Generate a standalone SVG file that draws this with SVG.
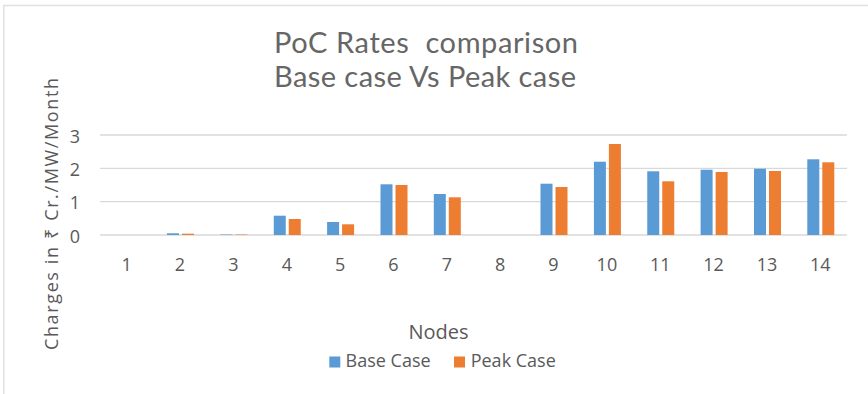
<svg xmlns="http://www.w3.org/2000/svg" width="868" height="394" viewBox="0 0 868 394">
<style>
.lbl{font-family:"Open Sans","Noto Sans",sans-serif;font-size:18px;fill:#595959}
.ttl{font-family:Lato,"Liberation Sans",sans-serif;font-size:29px;fill:#666666;white-space:pre}
.grid{stroke:#D9D9D9;stroke-width:1.3}
.b{fill:#5B9BD5}
.o{fill:#ED7D31}
</style>
<rect x="0" y="0" width="868" height="394" fill="#fff"/>
<path d="M3.7 394V5.5H868" fill="none" stroke="#E0E0E0" stroke-width="1.5"/>
<g id="title" class="ttl" text-anchor="middle">
<text x="426" y="52.7" xml:space="preserve" textLength="304" lengthAdjust="spacing">PoC Rates  comparison</text>
<text x="425" y="86.7" textLength="302" lengthAdjust="spacing">Base case Vs Peak case</text>
</g>
<g id="gridlines" class="grid">
<line x1="100" y1="135" x2="847" y2="135"/>
<line x1="100" y1="168.3" x2="847" y2="168.3"/>
<line x1="100" y1="201.7" x2="847" y2="201.7"/>
<line x1="100" y1="235" x2="847" y2="235"/>
</g>
<g id="y-ticks" class="lbl" text-anchor="middle">
<text x="75" y="142.5">3</text>
<text x="75" y="175.8">2</text>
<text x="75" y="209.2">1</text>
<text x="75" y="242.5">0</text>
</g>
<text id="y-title" class="lbl" transform="translate(58 214) rotate(-90)" text-anchor="middle" textLength="272" lengthAdjust="spacing">Charges in ₹ Cr./MW/Month</text>
<g id="bars">
<g id="n2"><rect class="b" x="167" y="233.3" width="12" height="1.7"/><rect class="o" x="182" y="233.7" width="12" height="1.3"/></g>
<g id="n3" opacity="0.45"><rect class="b" x="220.4" y="234" width="12" height="1"/><rect class="o" x="235.4" y="234" width="12" height="1"/></g>
<g id="n4"><rect class="b" x="273.75" y="215.7" width="12" height="19.3"/><rect class="o" x="288.75" y="219" width="12" height="16"/></g>
<g id="n5"><rect class="b" x="327.1" y="222" width="12" height="13"/><rect class="o" x="342.1" y="224.3" width="12" height="10.7"/></g>
<g id="n6"><rect class="b" x="380.5" y="184.3" width="12" height="50.7"/><rect class="o" x="395.5" y="185" width="12" height="50"/></g>
<g id="n7"><rect class="b" x="433.8" y="194" width="12" height="41"/><rect class="o" x="448.8" y="197.3" width="12" height="37.7"/></g>
<g id="n9"><rect class="b" x="540.5" y="183.7" width="12" height="51.3"/><rect class="o" x="555.5" y="187" width="12" height="48"/></g>
<g id="n10"><rect class="b" x="593.9" y="161.7" width="12" height="73.3"/><rect class="o" x="608.9" y="144" width="12" height="91"/></g>
<g id="n11"><rect class="b" x="647.25" y="171.3" width="12" height="63.7"/><rect class="o" x="662.25" y="181.3" width="12" height="53.7"/></g>
<g id="n12"><rect class="b" x="700.6" y="169.7" width="12" height="65.3"/><rect class="o" x="715.6" y="172" width="12" height="63"/></g>
<g id="n13"><rect class="b" x="754" y="168.7" width="12" height="66.3"/><rect class="o" x="769" y="171" width="12" height="64"/></g>
<g id="n14"><rect class="b" x="807.3" y="159.3" width="12" height="75.7"/><rect class="o" x="822.3" y="162.3" width="12" height="72.7"/></g>
</g>
<g id="x-ticks" class="lbl" text-anchor="middle">
<text x="126.7" y="270.5">1</text>
<text x="180" y="270.5">2</text>
<text x="233.4" y="270.5">3</text>
<text x="286.8" y="270.5">4</text>
<text x="340.1" y="270.5">5</text>
<text x="393.5" y="270.5">6</text>
<text x="446.8" y="270.5">7</text>
<text x="500.2" y="270.5">8</text>
<text x="553.5" y="270.5">9</text>
<text x="606.9" y="270.5">10</text>
<text x="660.3" y="270.5">11</text>
<text x="713.6" y="270.5">12</text>
<text x="767" y="270.5">13</text>
<text x="820.3" y="270.5">14</text>
</g>
<text id="x-title" class="lbl" x="438.5" y="339.3" text-anchor="middle" style="font-size:20px">Nodes</text>
<g id="legend" class="lbl">
<rect class="b" x="329.3" y="356.5" width="11" height="11"/>
<text x="345.6" y="367.3">Base Case</text>
<rect class="o" x="454" y="356.5" width="11" height="11"/>
<text x="470.7" y="367.3">Peak Case</text>
</g>
</svg>
